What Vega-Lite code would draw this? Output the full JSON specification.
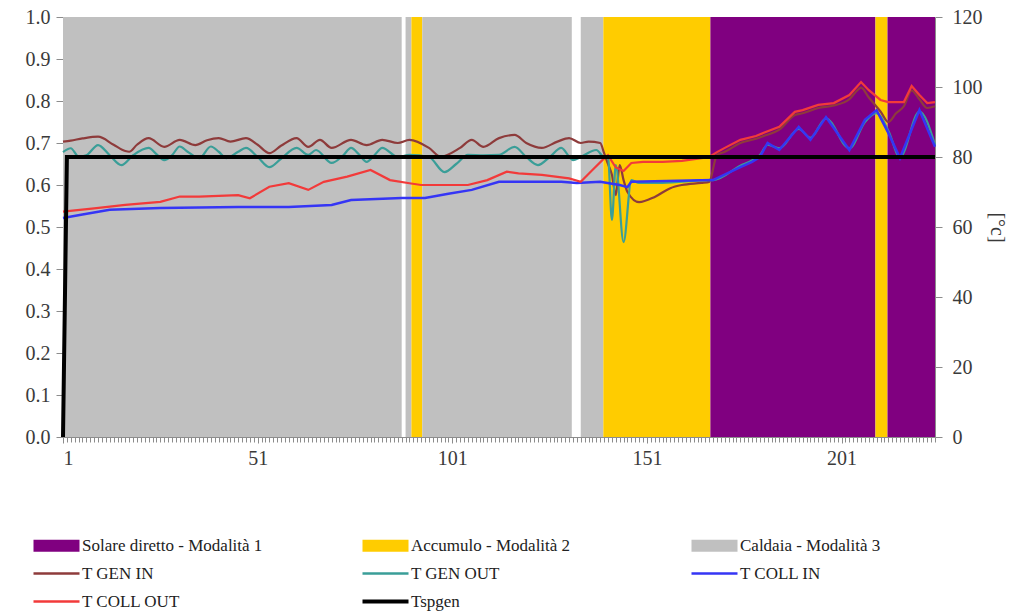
{
  "$schema": "https://vega.github.io/schema/vega-lite/v6.json",
  "width": 872,
  "height": 420,
  "autosize": "none",
  "padding": {"left": 63, "top": 17, "right": 86, "bottom": 175},
  "background": "white",
  "config": {
    "view": {"stroke": null},
    "font": "Liberation Serif, DejaVu Serif, serif",
    "axis": {"labelFont": "Liberation Serif, DejaVu Serif, serif", "labelFontSize": 20, "labelColor": "#3a3a3a", "domainColor": "#8c8c8c", "tickColor": "#8c8c8c", "grid": false, "titleFont": "Liberation Serif, DejaVu Serif, serif"},
    "legend": {"labelFont": "Liberation Serif, DejaVu Serif, serif"}
  },
  "datasets": {
    "modes": [
      {"series": "Caldaia - Modalità 3", "start": 1, "end": 88, "value": 1},
      {"series": "Caldaia - Modalità 3", "start": 89, "end": 90.5, "value": 1},
      {"series": "Accumulo - Modalità 2", "start": 90.5, "end": 93.3, "value": 1},
      {"series": "Caldaia - Modalità 3", "start": 93.3, "end": 131.7, "value": 1},
      {"series": "Caldaia - Modalità 3", "start": 134, "end": 139.8, "value": 1},
      {"series": "Accumulo - Modalità 2", "start": 139.8, "end": 167.3, "value": 1},
      {"series": "Solare diretto - Modalità 1", "start": 167.3, "end": 209.7, "value": 1},
      {"series": "Accumulo - Modalità 2", "start": 209.7, "end": 212.8, "value": 1},
      {"series": "Solare diretto - Modalità 1", "start": 212.8, "end": 225, "value": 1}
    ],
    "temps": [
      {"series": "T GEN IN", "x": 1, "temp": 84.4}, {"series": "T GEN IN", "x": 3, "temp": 84.7}, {"series": "T GEN IN", "x": 6, "temp": 85.3}, {"series": "T GEN IN", "x": 10, "temp": 85.8}, {"series": "T GEN IN", "x": 14, "temp": 83.5}, {"series": "T GEN IN", "x": 17, "temp": 81.7}, {"series": "T GEN IN", "x": 18, "temp": 81.5}, {"series": "T GEN IN", "x": 20, "temp": 83.5}, {"series": "T GEN IN", "x": 23, "temp": 85.4}, {"series": "T GEN IN", "x": 27, "temp": 82.9}, {"series": "T GEN IN", "x": 31, "temp": 84.9}, {"series": "T GEN IN", "x": 35, "temp": 83.4}, {"series": "T GEN IN", "x": 38, "temp": 84.8}, {"series": "T GEN IN", "x": 41, "temp": 85.4}, {"series": "T GEN IN", "x": 44, "temp": 84.4}, {"series": "T GEN IN", "x": 48, "temp": 85.4}, {"series": "T GEN IN", "x": 51, "temp": 83.5}, {"series": "T GEN IN", "x": 54, "temp": 81.1}, {"series": "T GEN IN", "x": 57, "temp": 83.2}, {"series": "T GEN IN", "x": 61, "temp": 85.4}, {"series": "T GEN IN", "x": 64, "temp": 82.9}, {"series": "T GEN IN", "x": 67, "temp": 84.9}, {"series": "T GEN IN", "x": 70, "temp": 82.6}, {"series": "T GEN IN", "x": 75, "temp": 84.9}, {"series": "T GEN IN", "x": 79, "temp": 83.4}, {"series": "T GEN IN", "x": 83, "temp": 84.9}, {"series": "T GEN IN", "x": 87, "temp": 84}, {"series": "T GEN IN", "x": 90, "temp": 84.9}, {"series": "T GEN IN", "x": 95, "temp": 82.6}, {"series": "T GEN IN", "x": 98, "temp": 80.1}, {"series": "T GEN IN", "x": 103, "temp": 82.6}, {"series": "T GEN IN", "x": 106, "temp": 84.9}, {"series": "T GEN IN", "x": 109, "temp": 82.9}, {"series": "T GEN IN", "x": 113, "temp": 85.4}, {"series": "T GEN IN", "x": 117, "temp": 86.3}, {"series": "T GEN IN", "x": 120, "temp": 84}, {"series": "T GEN IN", "x": 124, "temp": 82.6}, {"series": "T GEN IN", "x": 128, "temp": 84.4}, {"series": "T GEN IN", "x": 131, "temp": 85.4}, {"series": "T GEN IN", "x": 134, "temp": 84}, {"series": "T GEN IN", "x": 136, "temp": 84.4}, {"series": "T GEN IN", "x": 139, "temp": 84}, {"series": "T GEN IN", "x": 140, "temp": 81.1}, {"series": "T GEN IN", "x": 141, "temp": 78}, {"series": "T GEN IN", "x": 142, "temp": 74.9}, {"series": "T GEN IN", "x": 143, "temp": 69.1}, {"series": "T GEN IN", "x": 144, "temp": 77.7}, {"series": "T GEN IN", "x": 145, "temp": 73.4}, {"series": "T GEN IN", "x": 146, "temp": 70}, {"series": "T GEN IN", "x": 149, "temp": 67.1}, {"series": "T GEN IN", "x": 153, "temp": 68.6}, {"series": "T GEN IN", "x": 157, "temp": 71.1}, {"series": "T GEN IN", "x": 160, "temp": 72}, {"series": "T GEN IN", "x": 165, "temp": 72.6}, {"series": "T GEN IN", "x": 167, "temp": 72.9}, {"series": "T GEN IN", "x": 169, "temp": 80.6}, {"series": "T GEN IN", "x": 171, "temp": 81.5}, {"series": "T GEN IN", "x": 175, "temp": 84}, {"series": "T GEN IN", "x": 179, "temp": 85.2}, {"series": "T GEN IN", "x": 181, "temp": 86}, {"series": "T GEN IN", "x": 185, "temp": 87.8}, {"series": "T GEN IN", "x": 189, "temp": 92}, {"series": "T GEN IN", "x": 191, "temp": 92.5}, {"series": "T GEN IN", "x": 195, "temp": 94}, {"series": "T GEN IN", "x": 199, "temp": 94.7}, {"series": "T GEN IN", "x": 203, "temp": 96.5}, {"series": "T GEN IN", "x": 205, "temp": 99}, {"series": "T GEN IN", "x": 206, "temp": 99.8}, {"series": "T GEN IN", "x": 208, "temp": 97}, {"series": "T GEN IN", "x": 211, "temp": 93}, {"series": "T GEN IN", "x": 213, "temp": 90}, {"series": "T GEN IN", "x": 215, "temp": 92.5}, {"series": "T GEN IN", "x": 217, "temp": 94.5}, {"series": "T GEN IN", "x": 219, "temp": 99}, {"series": "T GEN IN", "x": 221, "temp": 96.5}, {"series": "T GEN IN", "x": 223, "temp": 94}, {"series": "T GEN IN", "x": 225, "temp": 94.5},

      {"series": "T GEN OUT", "x": 1, "temp": 81.4}, {"series": "T GEN OUT", "x": 3, "temp": 82.5}, {"series": "T GEN OUT", "x": 5, "temp": 80.1}, {"series": "T GEN OUT", "x": 7, "temp": 80.5}, {"series": "T GEN OUT", "x": 10, "temp": 83.4}, {"series": "T GEN OUT", "x": 13, "temp": 80.5}, {"series": "T GEN OUT", "x": 16, "temp": 77.7}, {"series": "T GEN OUT", "x": 19, "temp": 80.5}, {"series": "T GEN OUT", "x": 23, "temp": 82.6}, {"series": "T GEN OUT", "x": 25, "temp": 80.8}, {"series": "T GEN OUT", "x": 27, "temp": 79.1}, {"series": "T GEN OUT", "x": 29, "temp": 80.5}, {"series": "T GEN OUT", "x": 31, "temp": 83}, {"series": "T GEN OUT", "x": 33, "temp": 81.5}, {"series": "T GEN OUT", "x": 36, "temp": 79.7}, {"series": "T GEN OUT", "x": 39, "temp": 83}, {"series": "T GEN OUT", "x": 41, "temp": 81.5}, {"series": "T GEN OUT", "x": 43, "temp": 79.7}, {"series": "T GEN OUT", "x": 46, "temp": 81.5}, {"series": "T GEN OUT", "x": 48, "temp": 82.6}, {"series": "T GEN OUT", "x": 51, "temp": 80}, {"series": "T GEN OUT", "x": 54, "temp": 77.1}, {"series": "T GEN OUT", "x": 57, "temp": 79.5}, {"series": "T GEN OUT", "x": 61, "temp": 82.6}, {"series": "T GEN OUT", "x": 64, "temp": 80.6}, {"series": "T GEN OUT", "x": 66, "temp": 82}, {"series": "T GEN OUT", "x": 70, "temp": 78.3}, {"series": "T GEN OUT", "x": 73, "temp": 80.5}, {"series": "T GEN OUT", "x": 75, "temp": 82.6}, {"series": "T GEN OUT", "x": 77, "temp": 80.8}, {"series": "T GEN OUT", "x": 79, "temp": 78.6}, {"series": "T GEN OUT", "x": 81, "temp": 80.5}, {"series": "T GEN OUT", "x": 83, "temp": 82.6}, {"series": "T GEN OUT", "x": 87, "temp": 80}, {"series": "T GEN OUT", "x": 90, "temp": 80.6}, {"series": "T GEN OUT", "x": 95, "temp": 80}, {"series": "T GEN OUT", "x": 99, "temp": 75.7}, {"series": "T GEN OUT", "x": 102, "temp": 78}, {"series": "T GEN OUT", "x": 105, "temp": 80.6}, {"series": "T GEN OUT", "x": 109, "temp": 80.5}, {"series": "T GEN OUT", "x": 113, "temp": 80.6}, {"series": "T GEN OUT", "x": 117, "temp": 82.9}, {"series": "T GEN OUT", "x": 120, "temp": 80}, {"series": "T GEN OUT", "x": 123, "temp": 77.7}, {"series": "T GEN OUT", "x": 126, "temp": 80}, {"series": "T GEN OUT", "x": 129, "temp": 82.6}, {"series": "T GEN OUT", "x": 132, "temp": 79.1}, {"series": "T GEN OUT", "x": 134, "temp": 80}, {"series": "T GEN OUT", "x": 138, "temp": 82}, {"series": "T GEN OUT", "x": 140, "temp": 80}, {"series": "T GEN OUT", "x": 141, "temp": 80}, {"series": "T GEN OUT", "x": 142, "temp": 62}, {"series": "T GEN OUT", "x": 143, "temp": 77.7}, {"series": "T GEN OUT", "x": 145, "temp": 55.7}, {"series": "T GEN OUT", "x": 147, "temp": 73.4}, {"series": "T GEN OUT", "x": 149, "temp": 72.6}, {"series": "T GEN OUT", "x": 155, "temp": 72.6}, {"series": "T GEN OUT", "x": 167, "temp": 73.4}, {"series": "T GEN OUT", "x": 168, "temp": 73.4}, {"series": "T GEN OUT", "x": 175, "temp": 77.5}, {"series": "T GEN OUT", "x": 178, "temp": 79}, {"series": "T GEN OUT", "x": 180, "temp": 80.5}, {"series": "T GEN OUT", "x": 182, "temp": 83.5}, {"series": "T GEN OUT", "x": 185, "temp": 82.5}, {"series": "T GEN OUT", "x": 190, "temp": 88}, {"series": "T GEN OUT", "x": 193, "temp": 85.5}, {"series": "T GEN OUT", "x": 197, "temp": 91}, {"series": "T GEN OUT", "x": 203, "temp": 82.5}, {"series": "T GEN OUT", "x": 207, "temp": 90}, {"series": "T GEN OUT", "x": 210, "temp": 92.5}, {"series": "T GEN OUT", "x": 213, "temp": 87.5}, {"series": "T GEN OUT", "x": 216, "temp": 80}, {"series": "T GEN OUT", "x": 221, "temp": 93}, {"series": "T GEN OUT", "x": 225, "temp": 83.5},

      {"series": "T COLL IN", "x": 1, "temp": 62.6}, {"series": "T COLL IN", "x": 6, "temp": 63.6}, {"series": "T COLL IN", "x": 13, "temp": 64.9}, {"series": "T COLL IN", "x": 26, "temp": 65.4}, {"series": "T COLL IN", "x": 46, "temp": 65.7}, {"series": "T COLL IN", "x": 59, "temp": 65.7}, {"series": "T COLL IN", "x": 70, "temp": 66.3}, {"series": "T COLL IN", "x": 75, "temp": 67.7}, {"series": "T COLL IN", "x": 88, "temp": 68.3}, {"series": "T COLL IN", "x": 94, "temp": 68.3}, {"series": "T COLL IN", "x": 100, "temp": 69.5}, {"series": "T COLL IN", "x": 106, "temp": 70.6}, {"series": "T COLL IN", "x": 113, "temp": 72.9}, {"series": "T COLL IN", "x": 129, "temp": 72.9}, {"series": "T COLL IN", "x": 133, "temp": 72.6}, {"series": "T COLL IN", "x": 139, "temp": 72.9}, {"series": "T COLL IN", "x": 144, "temp": 72}, {"series": "T COLL IN", "x": 146, "temp": 71.4}, {"series": "T COLL IN", "x": 147, "temp": 72.9}, {"series": "T COLL IN", "x": 168, "temp": 73.4}, {"series": "T COLL IN", "x": 175, "temp": 77.1}, {"series": "T COLL IN", "x": 178, "temp": 78.6}, {"series": "T COLL IN", "x": 180, "temp": 80}, {"series": "T COLL IN", "x": 182, "temp": 84}, {"series": "T COLL IN", "x": 185, "temp": 82}, {"series": "T COLL IN", "x": 190, "temp": 88.6}, {"series": "T COLL IN", "x": 193, "temp": 84.9}, {"series": "T COLL IN", "x": 197, "temp": 91.4}, {"series": "T COLL IN", "x": 203, "temp": 82}, {"series": "T COLL IN", "x": 207, "temp": 90.6}, {"series": "T COLL IN", "x": 210, "temp": 93.4}, {"series": "T COLL IN", "x": 213, "temp": 86.9}, {"series": "T COLL IN", "x": 216, "temp": 79.7}, {"series": "T COLL IN", "x": 221, "temp": 93.4}, {"series": "T COLL IN", "x": 225, "temp": 82.9},

      {"series": "T COLL OUT", "x": 1, "temp": 64.4}, {"series": "T COLL OUT", "x": 9, "temp": 65.3}, {"series": "T COLL OUT", "x": 17, "temp": 66.3}, {"series": "T COLL OUT", "x": 26, "temp": 67.2}, {"series": "T COLL OUT", "x": 31, "temp": 68.7}, {"series": "T COLL OUT", "x": 36, "temp": 68.7}, {"series": "T COLL OUT", "x": 46, "temp": 69.1}, {"series": "T COLL OUT", "x": 49, "temp": 68.2}, {"series": "T COLL OUT", "x": 54, "temp": 71.5}, {"series": "T COLL OUT", "x": 59, "temp": 72.5}, {"series": "T COLL OUT", "x": 64, "temp": 70.6}, {"series": "T COLL OUT", "x": 68, "temp": 72.9}, {"series": "T COLL OUT", "x": 74, "temp": 74.4}, {"series": "T COLL OUT", "x": 80, "temp": 76.3}, {"series": "T COLL OUT", "x": 85, "temp": 73.4}, {"series": "T COLL OUT", "x": 90, "temp": 72.5}, {"series": "T COLL OUT", "x": 93, "temp": 72}, {"series": "T COLL OUT", "x": 105, "temp": 72}, {"series": "T COLL OUT", "x": 110, "temp": 73.4}, {"series": "T COLL OUT", "x": 115, "temp": 75.8}, {"series": "T COLL OUT", "x": 118, "temp": 75.3}, {"series": "T COLL OUT", "x": 124, "temp": 74.9}, {"series": "T COLL OUT", "x": 131, "temp": 73.9}, {"series": "T COLL OUT", "x": 134, "temp": 72.9}, {"series": "T COLL OUT", "x": 137, "temp": 76.3}, {"series": "T COLL OUT", "x": 140, "temp": 79.6}, {"series": "T COLL OUT", "x": 141, "temp": 80.5}, {"series": "T COLL OUT", "x": 143, "temp": 77}, {"series": "T COLL OUT", "x": 145, "temp": 76}, {"series": "T COLL OUT", "x": 147, "temp": 78.3}, {"series": "T COLL OUT", "x": 150, "temp": 78.6}, {"series": "T COLL OUT", "x": 155, "temp": 78.6}, {"series": "T COLL OUT", "x": 160, "temp": 78.9}, {"series": "T COLL OUT", "x": 165, "temp": 79.7}, {"series": "T COLL OUT", "x": 167, "temp": 80}, {"series": "T COLL OUT", "x": 169, "temp": 81.4}, {"series": "T COLL OUT", "x": 171, "temp": 82.6}, {"series": "T COLL OUT", "x": 175, "temp": 84.9}, {"series": "T COLL OUT", "x": 179, "temp": 86}, {"series": "T COLL OUT", "x": 181, "temp": 86.9}, {"series": "T COLL OUT", "x": 185, "temp": 88.6}, {"series": "T COLL OUT", "x": 189, "temp": 92.9}, {"series": "T COLL OUT", "x": 191, "temp": 93.4}, {"series": "T COLL OUT", "x": 195, "temp": 94.9}, {"series": "T COLL OUT", "x": 199, "temp": 95.4}, {"series": "T COLL OUT", "x": 203, "temp": 97.7}, {"series": "T COLL OUT", "x": 206, "temp": 101.4}, {"series": "T COLL OUT", "x": 208, "temp": 99.1}, {"series": "T COLL OUT", "x": 211, "temp": 96.3}, {"series": "T COLL OUT", "x": 213, "temp": 95.7}, {"series": "T COLL OUT", "x": 217, "temp": 95.7}, {"series": "T COLL OUT", "x": 219, "temp": 100.3}, {"series": "T COLL OUT", "x": 221, "temp": 97.7}, {"series": "T COLL OUT", "x": 223, "temp": 95.4}, {"series": "T COLL OUT", "x": 225, "temp": 95.7},

      {"series": "Tspgen", "x": 1, "temp": 0}, {"series": "Tspgen", "x": 2, "temp": 80}, {"series": "Tspgen", "x": 225, "temp": 80}
    ]
  },
  "layer": [
    {
      "data": {"name": "modes"},
      "mark": {"type": "rect"},
      "encoding": {
        "x": {"field": "start", "type": "quantitative", "scale": {"domain": [1, 225], "nice": false, "zero": false},
              "axis": {"orient": "bottom", "values": [1, 51, 101, 151, 201], "title": null, "tickSize": 6, "labelPadding": 5, "domain": true}},
        "x2": {"field": "end"},
        "y": {"field": "value", "type": "quantitative", "scale": {"domain": [0, 1], "nice": false},
              "axis": {"orient": "left", "tickCount": 10, "format": ".1f", "title": null, "tickSize": 7, "labelPadding": 6}},
        "y2": {"datum": 0},
        "color": {"field": "series", "type": "nominal",
          "scale": {"domain": ["Solare diretto - Modalità 1", "Accumulo - Modalità 2", "Caldaia - Modalità 3", "T GEN IN", "T GEN OUT", "T COLL IN", "T COLL OUT", "Tspgen"],
                    "range": ["#800080", "#FFCC00", "#C0C0C0", "#8E3B3B", "#3A9E98", "#3535F5", "#F23A3A", "#000000"]},
          "legend": {"orient": "none", "legendX": -15, "legendY": 520, "columns": 3, "direction": "horizontal", "gridAlign": "all", "columnPadding": 91, "rowPadding": 10, "title": null,
                     "labelFont": "Liberation Serif, DejaVu Serif, serif", "labelFontSize": 17, "labelColor": "#222222", "symbolSize": 2116, "labelOffset": 17, "labelLimit": 400,
                     "encode": {"symbols": {"update": {
                       "shape": {"signal": "indexof(['Solare diretto - Modalità 1','Accumulo - Modalità 2','Caldaia - Modalità 3'], datum.value) >= 0 ? 'M-1,-0.26H1V0.26H-1Z' : 'M-1,0H1'"},
                       "fill": {"signal": "indexof(['Solare diretto - Modalità 1','Accumulo - Modalità 2','Caldaia - Modalità 3'], datum.value) >= 0 ? scale('color', datum.value) : 'transparent'"},
                       "stroke": {"signal": "scale('color', datum.value)"},
                       "strokeWidth": {"signal": "datum.value == 'Tspgen' ? 4 : (indexof(['Solare diretto - Modalità 1','Accumulo - Modalità 2','Caldaia - Modalità 3'], datum.value) >= 0 ? 0 : 2.5)"},
                       "opacity": {"value": 1}
                     }}}}
        }
      }
    },
    {
      "data": {"name": "temps"},
      "encoding": {
        "x": {"field": "x", "type": "quantitative", "scale": {"domain": [1, 225], "nice": false, "zero": false},
              "axis": {"orient": "bottom", "tickCount": 225, "labels": false, "domain": false, "tickSize": 5, "title": null}},
        "y": {"field": "temp", "type": "quantitative", "scale": {"domain": [0, 120], "nice": false},
              "axis": {"orient": "right", "values": [0, 20, 40, 60, 80, 100, 120], "title": "[°c]", "titleFontSize": 20, "titleFontWeight": "normal", "titleColor": "#3a3a3a", "titlePadding": 4, "tickSize": 7, "labelPadding": 10}},
        "color": {"field": "series", "type": "nominal",
          "scale": {"domain": ["Solare diretto - Modalità 1", "Accumulo - Modalità 2", "Caldaia - Modalità 3", "T GEN IN", "T GEN OUT", "T COLL IN", "T COLL OUT", "Tspgen"],
                    "range": ["#800080", "#FFCC00", "#C0C0C0", "#8E3B3B", "#3A9E98", "#3535F5", "#F23A3A", "#000000"]},
          "legend": {"orient": "none", "legendX": -15, "legendY": 520, "columns": 3, "direction": "horizontal", "gridAlign": "all", "columnPadding": 91, "rowPadding": 10, "title": null,
                     "labelFont": "Liberation Serif, DejaVu Serif, serif", "labelFontSize": 17, "labelColor": "#222222", "symbolSize": 2116, "labelOffset": 17, "labelLimit": 400}
        }
      },
      "layer": [
        {"transform": [{"filter": "datum.series == 'T GEN IN'"}], "mark": {"type": "line", "strokeWidth": 2.2, "interpolate": "monotone"}},
        {"transform": [{"filter": "datum.series == 'T GEN OUT'"}], "mark": {"type": "line", "strokeWidth": 2.2, "interpolate": "monotone"}},
        {"transform": [{"filter": "datum.series == 'T COLL IN'"}], "mark": {"type": "line", "strokeWidth": 2.5}},
        {"transform": [{"filter": "datum.series == 'T COLL OUT'"}], "mark": {"type": "line", "strokeWidth": 2.2}},
        {"transform": [{"filter": "datum.series == 'Tspgen'"}], "mark": {"type": "line", "strokeWidth": 4}}
      ]
    }
  ],
  "resolve": {"scale": {"y": "independent"}, "axis": {"x": "independent"}}
}
